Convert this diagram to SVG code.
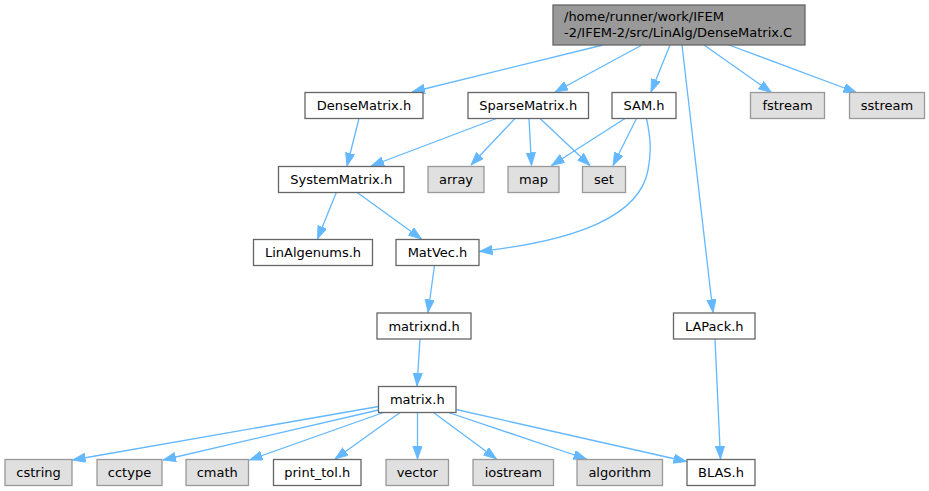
<svg xmlns="http://www.w3.org/2000/svg" width="929" height="491" viewBox="0 0 929 491">
<style>
  .n rect { fill: #ffffff; stroke: #666666; stroke-width: 1.3; }
  .g rect { fill: #e0e0e0; stroke: #999999; stroke-width: 1.3; }
  .r rect { fill: #999999; stroke: #666666; stroke-width: 1.3; }
  text { font-family: "DejaVu Sans", "Liberation Sans", sans-serif; font-size: 13px; fill: #000000; }
  .c { text-anchor: middle; }
  #edges path { fill: none; stroke: #63b8ff; stroke-width: 1.3; marker-end: url(#ah); }
</style>
<defs>
  <marker id="ah" markerUnits="userSpaceOnUse" markerWidth="14" markerHeight="11" refX="13" refY="4.7" orient="auto">
    <path d="M0,0 L13,4.7 L0,9.4 z" fill="#63b8ff" stroke="#63b8ff" stroke-width="0.8"/>
  </marker>
</defs>
<rect width="929" height="491" fill="#ffffff"/>

<g id="edges">
  <path d="M603,45 L412,92"/>
  <path d="M642,45 L555,92"/>
  <path d="M670,45 L651,92"/>
  <path d="M682,45 L713,312.5"/>
  <path d="M704,45 L771.5,92.5"/>
  <path d="M729,45 L856.5,92.5"/>
  <path d="M359,118.5 L347,166"/>
  <path d="M496.5,118.5 L371,166"/>
  <path d="M515,118.5 L471,165"/>
  <path d="M529,118.5 L531.5,165.5"/>
  <path d="M540,118.5 L590,165.5"/>
  <path d="M625,118.5 L551.5,165.5"/>
  <path d="M636.5,118.5 L613,165.5"/>
  <path d="M646.5,118.5 C650,135 652,150 648,170 C640,215 580,240 479.5,251.5"/>
  <path d="M336.5,192 L317.5,239"/>
  <path d="M356.5,192 L421.5,239"/>
  <path d="M434.5,265.5 L428,312.5"/>
  <path d="M420,339 L417,386"/>
  <path d="M715,339 L720.5,459"/>
  <path d="M378.5,406.5 L72.5,460"/>
  <path d="M378.5,410 L163,460"/>
  <path d="M383.5,412.5 L249.5,460"/>
  <path d="M400,412.5 L335,459"/>
  <path d="M417.5,412.5 L417.5,459"/>
  <path d="M433.5,412.5 L496.5,459"/>
  <path d="M447,412 L586.5,459"/>
  <path d="M456,409.5 L686.5,461.5"/>
</g>

<g id="root" class="r">
  <rect x="553" y="5" width="252" height="40"/>
  <text x="564" y="21">/home/runner/work/IFEM</text>
  <text x="564" y="37">-2/IFEM-2/src/LinAlg/DenseMatrix.C</text>
</g>
<g id="DenseMatrix_h" class="n"><rect x="305" y="92.5" width="118" height="26"/><text class="c" x="364" y="110">DenseMatrix.h</text></g>
<g id="SparseMatrix_h" class="n"><rect x="468" y="92.5" width="120.5" height="26"/><text class="c" x="528.25" y="110">SparseMatrix.h</text></g>
<g id="SAM_h" class="n"><rect x="612" y="92.5" width="64" height="26"/><text class="c" x="644" y="110">SAM.h</text></g>
<g id="fstream" class="g"><rect x="750.5" y="92.5" width="74" height="26"/><text class="c" x="787.5" y="110">fstream</text></g>
<g id="sstream" class="g"><rect x="849.5" y="92.5" width="75" height="26"/><text class="c" x="887" y="110">sstream</text></g>

<g id="SystemMatrix_h" class="n"><rect x="278.5" y="166.5" width="125.5" height="26"/><text class="c" x="341.25" y="184">SystemMatrix.h</text></g>
<g id="array" class="g"><rect x="428" y="166.5" width="56" height="26"/><text class="c" x="456" y="184">array</text></g>
<g id="map" class="g"><rect x="508" y="166.5" width="51" height="26"/><text class="c" x="533.5" y="184">map</text></g>
<g id="set" class="g"><rect x="582.5" y="166.5" width="43" height="26"/><text class="c" x="604" y="184">set</text></g>

<g id="LinAlgenums_h" class="n"><rect x="253.5" y="239.5" width="119" height="26"/><text class="c" x="313" y="257">LinAlgenums.h</text></g>
<g id="MatVec_h" class="n"><rect x="396" y="239.5" width="83" height="26"/><text class="c" x="437.5" y="257">MatVec.h</text></g>

<g id="matrixnd_h" class="n"><rect x="377" y="313" width="94" height="26"/><text class="c" x="424" y="330.5">matrixnd.h</text></g>
<g id="LAPack_h" class="n"><rect x="673.5" y="313" width="81.5" height="26"/><text class="c" x="714.25" y="330.5">LAPack.h</text></g>

<g id="matrix_h" class="n"><rect x="378.5" y="386.5" width="77.5" height="26"/><text class="c" x="417.25" y="404">matrix.h</text></g>

<g id="cstring" class="g"><rect x="5" y="459.5" width="67" height="26"/><text class="c" x="38.5" y="477">cstring</text></g>
<g id="cctype" class="g"><rect x="97" y="459.5" width="65" height="26"/><text class="c" x="129.5" y="477">cctype</text></g>
<g id="cmath" class="g"><rect x="186" y="459.5" width="62.5" height="26"/><text class="c" x="217.25" y="477">cmath</text></g>
<g id="print_tol_h" class="n"><rect x="273.5" y="459.5" width="87.5" height="26"/><text class="c" x="317.25" y="477">print_tol.h</text></g>
<g id="vector" class="g"><rect x="386" y="459.5" width="62.5" height="26"/><text class="c" x="417.25" y="477">vector</text></g>
<g id="iostream" class="g"><rect x="473" y="459.5" width="80.5" height="26"/><text class="c" x="513.25" y="477">iostream</text></g>
<g id="algorithm" class="g"><rect x="577" y="459.5" width="85.5" height="26"/><text class="c" x="619.75" y="477">algorithm</text></g>
<g id="BLAS_h" class="n"><rect x="687" y="459.5" width="68" height="26"/><text class="c" x="721" y="477">BLAS.h</text></g>
</svg>
